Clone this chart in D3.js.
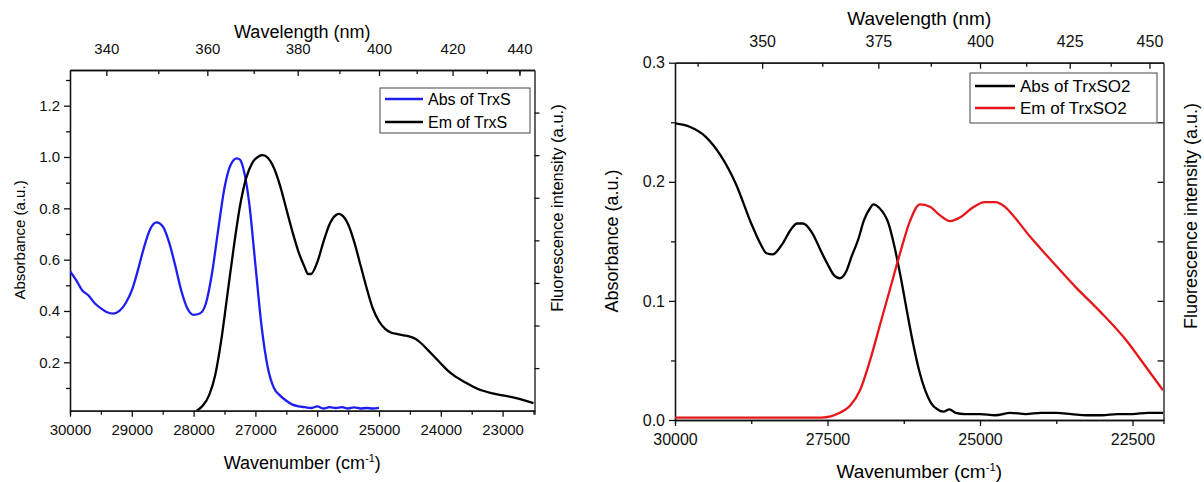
<!doctype html>
<html>
<head>
<script src="https://d3js.org/d3.v7.min.js"></script>
<style>
  body { margin: 0; background: #fff; }
  svg { font-family: "Liberation Sans", Arial, sans-serif; }
  .axis path, .axis line { stroke: #111; stroke-width: 1.3; }
  .axis text { fill: #111; }
</style>
</head>
<body>
<svg id="chart" width="1204" height="482"></svg>
<script>

// ---- left panel: TrxS ----
var trxsAbsWn = [30000, 29900, 29800, 29700, 29600, 29500, 29400, 29300, 29200, 29100, 29000, 28900, 28800, 28700, 28600, 28500, 28400, 28300, 28200, 28100, 28000, 27900, 27800, 27700, 27600, 27500, 27400, 27300, 27250, 27200, 27100, 27000, 26900, 26800, 26700, 26600, 26500, 26400, 26300, 26200, 26100, 26000, 25900, 25800, 25700, 25600, 25500, 25400, 25300, 25200, 25100, 25000];
var trxsAbs   = [0.555, 0.52, 0.48, 0.46, 0.43, 0.41, 0.395, 0.39, 0.40, 0.43, 0.48, 0.56, 0.65, 0.72, 0.745, 0.73, 0.67, 0.58, 0.48, 0.41, 0.385, 0.39, 0.43, 0.55, 0.72, 0.88, 0.97, 0.995, 0.99, 0.96, 0.82, 0.58, 0.34, 0.18, 0.10, 0.07, 0.05, 0.035, 0.028, 0.025, 0.022, 0.028, 0.02, 0.025, 0.022, 0.025, 0.02, 0.024, 0.02, 0.022, 0.02, 0.022];
var trxsEmWn  = [27950, 27850, 27750, 27650, 27550, 27450, 27350, 27250, 27150, 27050, 26950, 26880, 26800, 26700, 26600, 26500, 26400, 26300, 26200, 26150, 26100, 26000, 25900, 25800, 25700, 25650, 25600, 25500, 25400, 25300, 25200, 25100, 25000, 24900, 24800, 24700, 24600, 24500, 24400, 24300, 24200, 24100, 24000, 23900, 23800, 23600, 23400, 23200, 23000, 22800, 22500];
var trxsEm    = [0.0, 0.02, 0.06, 0.14, 0.28, 0.46, 0.64, 0.80, 0.91, 0.97, 0.995, 1.0, 0.99, 0.95, 0.88, 0.79, 0.70, 0.62, 0.56, 0.535, 0.535, 0.58, 0.66, 0.73, 0.765, 0.77, 0.765, 0.73, 0.66, 0.57, 0.48, 0.40, 0.35, 0.32, 0.305, 0.30, 0.295, 0.29, 0.28, 0.26, 0.235, 0.21, 0.185, 0.16, 0.14, 0.11, 0.085, 0.07, 0.06, 0.05, 0.03];

// ---- right panel: TrxSO2 ----
var trxso2AbsWn = [30000, 29750, 29500, 29250, 29000, 28750, 28600, 28500, 28400, 28250, 28100, 28000, 27900, 27750, 27600, 27500, 27400, 27300, 27200, 27100, 27000, 26900, 26800, 26750, 26650, 26500, 26400, 26300, 26200, 26100, 26000, 25900, 25800, 25700, 25600, 25500, 25400, 25250, 25000, 24750, 24500, 24250, 24000, 23750, 23500, 23250, 23000, 22750, 22500, 22250, 22000];
var trxso2Abs   = [0.249, 0.246, 0.238, 0.222, 0.198, 0.165, 0.148, 0.14, 0.139, 0.147, 0.16, 0.165, 0.165, 0.157, 0.141, 0.131, 0.122, 0.119, 0.124, 0.138, 0.151, 0.168, 0.178, 0.181, 0.178, 0.165, 0.145, 0.12, 0.092, 0.065, 0.042, 0.025, 0.014, 0.009, 0.007, 0.009, 0.006, 0.005, 0.005, 0.004, 0.006, 0.005, 0.006, 0.006, 0.005, 0.004, 0.004, 0.005, 0.005, 0.006, 0.006];
var trxso2EmWn  = [30000, 29500, 29000, 28500, 28000, 27600, 27450, 27300, 27131, 26967, 26803, 26639, 26475, 26311, 26148, 25984, 25820, 25660, 25490, 25330, 25130, 24920, 24750, 24590, 24430, 24180, 23850, 23440, 23030, 22620, 22300, 22000];
var trxso2Em    = [0.002, 0.002, 0.002, 0.002, 0.002, 0.002, 0.003, 0.006, 0.012, 0.025, 0.05, 0.08, 0.11, 0.14, 0.167, 0.181, 0.179, 0.172, 0.167, 0.17, 0.178, 0.183, 0.183, 0.179, 0.17, 0.154, 0.135, 0.112, 0.091, 0.068, 0.046, 0.025];

// tick values
var leftWnTicks   = [30000, 29000, 28000, 27000, 26000, 25000, 24000, 23000];
var leftNmTicks   = [340, 360, 380, 400, 420, 440];
var leftAbsTicks  = [0.2, 0.4, 0.6, 0.8, 1.0, 1.2];
var rightWnTicks  = [30000, 27500, 25000, 22500];
var rightNmTicks  = [350, 375, 400, 425, 450];
var rightAbsTicks = [0.0, 0.1, 0.2, 0.3];

var svg = d3.select("#chart");

function drawPanel(p) {
    var g = svg.append("g");

    var x = d3.scaleLinear().domain(p.xDomain).range([p.x0, p.x1]);
    var y = d3.scaleLinear().domain(p.yDomain).range([p.y1, p.y0]);
    var yF = d3.scaleLinear().domain(p.fDomain).range([p.y1, p.y0]);

    // bottom axis
    g.append("g").attr("class", "axis")
        .attr("transform", "translate(0," + p.y1 + ")")
        .call(d3.axisBottom(x).tickValues(p.wnMinor).tickSize(p.minorLen).tickFormat(""));
    g.append("g").attr("class", "axis")
        .attr("transform", "translate(0," + p.y1 + ")")
        .call(d3.axisBottom(x).tickValues(p.wnTicks).tickSize(p.majorLen).tickSizeOuter(0).tickPadding(8)
            .tickFormat(d3.format("d")))
        .selectAll("text").style("font-size", p.tickFont + "px");

    // top axis (wavelength, nm = 1e7 / wavenumber)
    g.append("g").attr("class", "axis")
        .attr("transform", "translate(0," + p.y0 + ")")
        .call(d3.axisTop(x).tickValues(p.nmMinor.map(function (d) { return 1e7 / d; }))
            .tickSize(-p.minorLen).tickSizeOuter(0).tickFormat(""));
    g.append("g").attr("class", "axis")
        .attr("transform", "translate(0," + p.y0 + ")")
        .call(d3.axisTop(x).tickValues(p.nmTicks.map(function (d) { return 1e7 / d; }))
            .tickSize(-p.majorLen).tickSizeOuter(0).tickPadding(p.majorLen + 10)
            .tickFormat(function (d) { return Math.round(1e7 / d); }))
        .selectAll("text").style("font-size", p.tickFont + "px");

    // left axis
    g.append("g").attr("class", "axis")
        .attr("transform", "translate(" + p.x0 + ",0)")
        .call(d3.axisLeft(y).tickValues(p.absMinor).tickSize(p.minorLen).tickSizeOuter(0).tickFormat(""));
    g.append("g").attr("class", "axis")
        .attr("transform", "translate(" + p.x0 + ",0)")
        .call(d3.axisLeft(y).tickValues(p.absTicks).tickSize(p.majorLen).tickSizeOuter(0).tickPadding(4)
            .tickFormat(d3.format(".1f")))
        .selectAll("text").style("font-size", p.tickFont + "px");

    // right axis (fluorescence, unlabeled)
    g.append("g").attr("class", "axis")
        .attr("transform", "translate(" + p.x1 + ",0)")
        .call(d3.axisRight(yF).tickValues(p.fTicks).tickSize(p.rightTick).tickSizeOuter(0).tickFormat(""));

    // series
    var clipId = "clip" + p.id;
    g.append("clipPath").attr("id", clipId).append("rect")
        .attr("x", p.x0).attr("y", p.y0).attr("width", p.x1 - p.x0).attr("height", p.y1 - p.y0);

    p.series.forEach(function (s) {
        var sc = s.axis === "f" ? yF : y;
        var line = d3.line()
            .x(function (d, i) { return x(s.wn[i]); })
            .y(function (d) { return sc(d); })
            .curve(d3.curveMonotoneX);
        g.append("path")
            .attr("clip-path", "url(#" + clipId + ")")
            .attr("d", line(s.vals))
            .attr("fill", "none")
            .attr("stroke", s.color)
            .attr("stroke-width", 2.3)
            .attr("stroke-linejoin", "round");
    });

    // titles
    g.append("text")
        .attr("x", (p.x0 + p.x1) / 2).attr("y", p.bottomTitleY)
        .attr("text-anchor", "middle").style("font-size", p.titleFont + "px")
        .text("Wavenumber (cm")
        .append("tspan").attr("dy", -7).style("font-size", (p.titleFont * 0.6) + "px").text("-1")
        .select(function () { return this.parentNode; })
        .append("tspan").attr("dy", 7).text(")");

    g.append("text")
        .attr("x", (p.x0 + p.x1) / 2).attr("y", p.topTitleY)
        .attr("text-anchor", "middle").style("font-size", p.titleFont + "px")
        .text("Wavelength (nm)");

    g.append("text")
        .attr("transform", "translate(" + p.leftTitleX + "," + p.leftTitleCY + ") rotate(-90)")
        .attr("text-anchor", "middle").attr("dy", "0.35em").style("font-size", p.yTitleFont + "px")
        .text("Absorbance (a.u.)");

    g.append("text")
        .attr("transform", "translate(" + p.rightTitleX + "," + p.rightTitleCY + ") rotate(-90)")
        .attr("text-anchor", "middle").attr("dy", "0.35em").style("font-size", p.fTitleFont + "px")
        .text("Fluorescence intensity (a.u.)");

    // legend
    var lg = p.legend;
    g.append("rect")
        .attr("x", lg.x).attr("y", lg.y).attr("width", lg.w).attr("height", lg.h)
        .attr("fill", "#fff").attr("stroke", "#444").attr("stroke-width", 1);
    p.series.forEach(function (s, i) {
        var cy = lg.y + lg.row0 + i * lg.rowGap;
        g.append("line")
            .attr("x1", lg.x + 5).attr("x2", lg.x + 5 + lg.lineLen)
            .attr("y1", cy).attr("y2", cy)
            .attr("stroke", s.color).attr("stroke-width", 2.3);
        g.append("text")
            .attr("x", lg.x + 10 + lg.lineLen).attr("y", cy).attr("dy", "0.36em")
            .style("font-size", lg.font + "px")
            .text(s.name);
    });
}

drawPanel({
    id: "L",
    x0: 70, x1: 534.5, y0: 70, y1: 410.7,
    xDomain: [30000, 22484],
    yDomain: [0.0114, 1.339],
    fDomain: [0, 4 / 3],
    fTicks: d3.range(1, 8).map(function (i) { return i / 6; }),
    rightTick: 5,
    wnTicks: leftWnTicks,
    wnMinor: [29500, 28500, 27500, 26500, 25500, 24500, 23500, 22500],
    nmTicks: leftNmTicks,
    nmMinor: [350, 370, 390, 410, 430, 440],
    absTicks: leftAbsTicks,
    absMinor: [0.1, 0.3, 0.5, 0.7, 0.9, 1.1, 1.3],
    majorLen: 6, minorLen: 4,
    tickFont: 15, titleFont: 18, yTitleFont: 15, fTitleFont: 16.5,
    bottomTitleY: 469, topTitleY: 38,
    leftTitleX: 20, leftTitleCY: 240,
    rightTitleX: 557, rightTitleCY: 208,
    series: [
        { name: "Abs of TrxS", wn: trxsAbsWn, vals: trxsAbs, color: "#1e1ef2", axis: "a" },
        { name: "Em of TrxS", wn: trxsEmWn, vals: trxsEm, color: "#000", axis: "f" }
    ],
    legend: { x: 380, y: 88, w: 150, h: 45, row0: 11, rowGap: 23, lineLen: 38, font: 16 }
});

drawPanel({
    id: "R",
    x0: 675, x1: 1163.5, y0: 62.7, y1: 420,
    xDomain: [30000, 21992],
    yDomain: [0, 0.3],
    fDomain: [0, 0.3],
    fTicks: [0.05, 0.1, 0.15, 0.2, 0.25],
    rightTick: -6,
    wnTicks: rightWnTicks,
    wnMinor: [28750, 26250, 23750],
    nmTicks: rightNmTicks,
    nmMinor: [337.5, 362.5, 387.5, 412.5, 437.5],
    absTicks: rightAbsTicks,
    absMinor: [0.05, 0.15, 0.25],
    majorLen: 6, minorLen: 4,
    tickFont: 16, titleFont: 19, yTitleFont: 18, fTitleFont: 18,
    bottomTitleY: 478, topTitleY: 25,
    leftTitleX: 612, leftTitleCY: 241,
    rightTitleX: 1191, rightTitleCY: 216,
    series: [
        { name: "Abs of TrxSO2", wn: trxso2AbsWn, vals: trxso2Abs, color: "#000", axis: "a" },
        { name: "Em of TrxSO2", wn: trxso2EmWn, vals: trxso2Em, color: "#e8161b", axis: "f" }
    ],
    legend: { x: 970, y: 73, w: 187, h: 50, row0: 13, rowGap: 22, lineLen: 40, font: 17 }
});

</script>
</body>
</html>
